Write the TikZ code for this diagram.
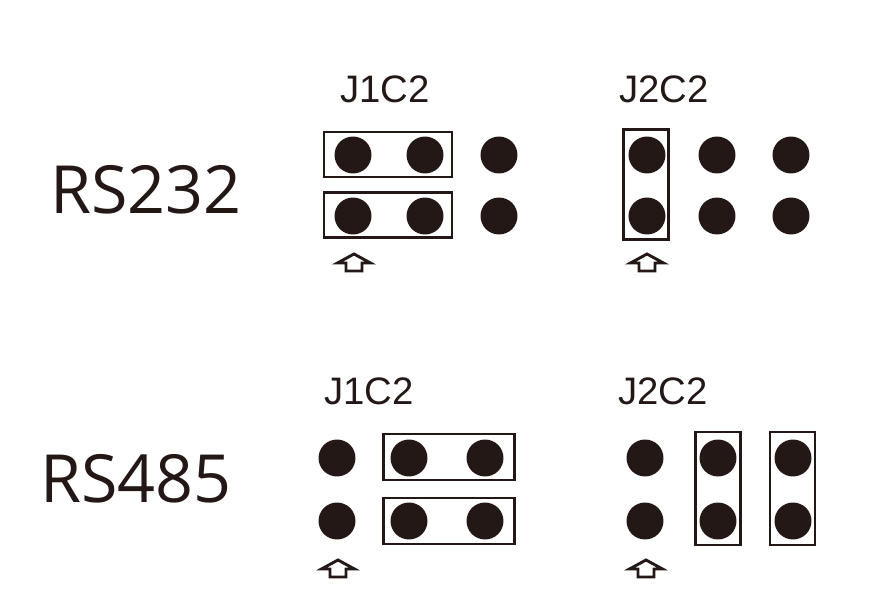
\documentclass[tikz,border=0pt]{standalone}
\usepackage{fontspec}
\setmainfont{Liberation Sans}
\newfontfamily\modefont{Open Sans}
\definecolor{ink}{HTML}{231815}

\begin{document}
\begin{tikzpicture}[
  x=0.02cm,y=-0.02cm,
  pin/.style={circle,fill=ink,minimum size=0.74cm,inner sep=0pt},
  jumper/.style={draw=ink,line width=0.058cm,inner sep=0pt},
  hjumper/.style={jumper,minimum width=2.56cm,minimum height=0.9cm},
  vjumper/.style={jumper,minimum width=0.9cm,minimum height=2.2cm},
  hdr/.style={font=\fontsize{21.8}{24}\selectfont,text=ink,inner sep=0pt},
  mode/.style={font=\modefont\fontsize{37.8}{42}\selectfont,text=ink,inner sep=0pt},
  uparrow/.pic={\draw[ink,line width=0.058cm,line join=miter]
    (0,-9) -- (16.5,0) -- (8,0) -- (8,8) -- (-8,8) -- (-8,0) -- (-16.5,0) -- cycle;},
]
\useasboundingbox (0,0) rectangle (877,608);

% === Mode labels ===
\node[mode] (rs232) at (146,190) {RS232};
\node[mode] (rs485) at (136,479) {RS485};

% === Header labels ===
\node[hdr] (j1top) at (385,89) {J1C2};
\node[hdr] (j2top) at (664,89) {J2C2};
\node[hdr] (j1bot) at (369,391) {J1C2};
\node[hdr] (j2bot) at (663,391) {J2C2};

% === Jumpers ===
\node[hjumper] (ja) at (388,154.5) {};
\node[hjumper] (jb) at (388,215) {};
\node[vjumper] (jc) at (646,184.5) {};
\node[hjumper,minimum width=2.62cm,minimum height=0.92cm] (jd) at (449,457) {};
\node[hjumper,minimum width=2.62cm,minimum height=0.92cm] (je) at (449,521) {};
\node[vjumper,minimum height=2.26cm] (jf) at (718,488.5) {};
\node[vjumper,minimum height=2.26cm] (jg) at (792.5,488.5) {};

% === Pins ===
\foreach \px in {353,425,499} \foreach \py/\tag in {155/a,216/b}
  \node[pin] (p1\px\tag) at (\px,\py) {};
\foreach \px in {647,717,791} \foreach \py/\tag in {155/a,216/b}
  \node[pin] (p2\px\tag) at (\px,\py) {};
\foreach \px in {337,409,485} \foreach \py/\tag in {458/a,521/b}
  \node[pin] (p3\px\tag) at (\px,\py) {};
\foreach \px in {645,718,793} \foreach \py/\tag in {458/a,521/b}
  \node[pin] (p4\px\tag) at (\px,\py) {};

% === Position arrows ===
\pic at (354,263) {uparrow};
\pic at (647,263) {uparrow};
\pic at (338,569) {uparrow};
\pic at (646,569) {uparrow};

\end{tikzpicture}
\end{document}
